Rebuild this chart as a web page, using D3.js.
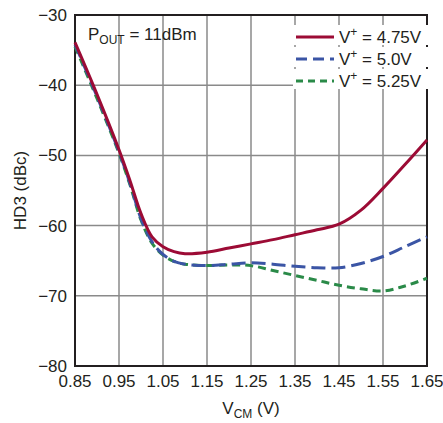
<!DOCTYPE html>
<html>
<head>
<meta charset="utf-8">
<script src="https://cdn.jsdelivr.net/npm/d3@7"></script>
<style>
  body { margin: 0; background: #fff; }
  text { font-family: "Liberation Sans Narrow", "Arial Narrow", "Liberation Sans", Arial, sans-serif; fill: #231f20; }
</style>
</head>
<body>
<div id="chart"></div>
<script>
// V_CM sample points (V)
const vcm = [0.85, 0.90, 0.95, 0.975, 1.00, 1.025, 1.05, 1.075, 1.10, 1.15, 1.20, 1.25, 1.30, 1.35, 1.40, 1.45, 1.50, 1.55, 1.60, 1.65];

// HD3 (dBc) per supply
const hd3_475 = [-33.9, -41.3, -49.2, -53.6, -58.3, -61.6, -63.0, -63.7, -64.0, -63.8, -63.2, -62.6, -62.0, -61.3, -60.6, -59.8, -57.8, -54.7, -51.3, -47.8];
const hd3_500 = [-34.2, -41.6, -49.5, -54.0, -59.0, -62.3, -64.1, -65.1, -65.5, -65.7, -65.5, -65.3, -65.5, -65.8, -66.0, -66.0, -65.4, -64.4, -63.0, -61.6];
const hd3_525 = [-34.5, -41.9, -49.7, -54.2, -59.2, -62.5, -64.2, -65.1, -65.5, -65.7, -65.6, -65.7, -66.4, -67.1, -67.8, -68.5, -69.0, -69.3, -68.6, -67.5];

const xTicks = [0.85, 0.95, 1.05, 1.15, 1.25, 1.35, 1.45, 1.55, 1.65];
const yTicks = [-80, -70, -60, -50, -40, -30];

const seriesNames = ["4.75V", "5.0V", "5.25V"];

const width = 443, height = 423;
const margin = {top: 15, right: 16, bottom: 57, left: 75};

const svg = d3.select("#chart").append("svg")
  .attr("width", width)
  .attr("height", height);

const x = d3.scaleLinear().domain([0.85, 1.65]).range([margin.left, width - margin.right]);
const y = d3.scaleLinear().domain([-80, -30]).range([height - margin.bottom, margin.top]);

// grid
svg.append("g").selectAll("line.v")
  .data(xTicks.slice(1, -1))
  .enter().append("line")
  .attr("x1", d => x(d)).attr("x2", d => x(d))
  .attr("y1", y(-30)).attr("y2", y(-80))
  .attr("stroke", "#8a8a8a").attr("stroke-width", 1.5);

svg.append("g").selectAll("line.h")
  .data(yTicks.slice(1, -1))
  .enter().append("line")
  .attr("x1", x(0.85)).attr("x2", x(1.65))
  .attr("y1", d => y(d)).attr("y2", d => y(d))
  .attr("stroke", "#8a8a8a").attr("stroke-width", 1.5);

// frame
svg.append("rect")
  .attr("x", x(0.85)).attr("y", y(-30))
  .attr("width", x(1.65) - x(0.85)).attr("height", y(-80) - y(-30))
  .attr("fill", "none").attr("stroke", "#231f20").attr("stroke-width", 2);

// tick labels
const fmtY = d => "\u2212" + Math.abs(d);
svg.append("g").selectAll("text")
  .data(yTicks).enter().append("text")
  .attr("x", x(0.85) - 8).attr("y", d => y(d)).attr("dy", "0.35em")
  .attr("text-anchor", "end").attr("font-size", 17)
  .text(fmtY);

svg.append("g").selectAll("text")
  .data(xTicks).enter().append("text")
  .attr("x", d => x(d)).attr("y", y(-80) + 21)
  .attr("text-anchor", "middle").attr("font-size", 17)
  .text(d => d.toFixed(2));

// axis titles
const xt = svg.append("text")
  .attr("x", (x(0.85) + x(1.65)) / 2).attr("y", 414)
  .attr("text-anchor", "middle").attr("font-size", 17);
xt.append("tspan").text("V");
xt.append("tspan").attr("font-size", 12).attr("dy", 4).text("CM");
xt.append("tspan").attr("dy", -4).text(" (V)");

svg.append("text")
  .attr("transform", `translate(26,${(y(-30) + y(-80)) / 2}) rotate(-90)`)
  .attr("text-anchor", "middle").attr("font-size", 17)
  .text("HD3 (dBc)");

// curves
const series = [
  {vals: hd3_475, color: "#9c0b35", dash: null},
  {vals: hd3_500, color: "#3b55a5", dash: "14,6"},
  {vals: hd3_525, color: "#2a8a48", dash: "8,5"}
];

const line = d3.line()
  .x((d, i) => x(vcm[i]))
  .y(d => y(d))
  .curve(d3.curveCatmullRom.alpha(0.5));

// draw green, blue, then red on top
[2, 1, 0].forEach(k => {
  const s = series[k];
  svg.append("path")
    .attr("d", line(s.vals))
    .attr("fill", "none")
    .attr("stroke", s.color)
    .attr("stroke-width", 3)
    .attr("stroke-dasharray", s.dash);
});

// annotation
const ann = svg.append("text").attr("x", 88).attr("y", 40).attr("font-size", 17);
ann.append("tspan").text("P");
ann.append("tspan").attr("font-size", 12).attr("dy", 4).text("OUT");
ann.append("tspan").attr("dy", -4).text(" = 11dBm");

// legend
const leg = svg.append("g");
series.forEach((s, i) => {
  const ly = 37 + i * 22;
  leg.append("rect")
    .attr("x", 293).attr("y", ly - 12).attr("width", 135).attr("height", 20)
    .attr("fill", "#fff");
  leg.append("line")
    .attr("x1", 296).attr("x2", 334).attr("y1", ly).attr("y2", ly)
    .attr("stroke", s.color).attr("stroke-width", 3)
    .attr("stroke-dasharray", s.dash ? (i === 1 ? "11,6" : "7,5") : null);
  const t = leg.append("text").attr("x", 339).attr("y", ly + 6).attr("font-size", 17);
  t.append("tspan").text("V");
  t.append("tspan").attr("font-size", 12).attr("dy", -7).text("+");
  t.append("tspan").attr("dy", 7).text(" = " + seriesNames[i]);
});
</script>
</body>
</html>
